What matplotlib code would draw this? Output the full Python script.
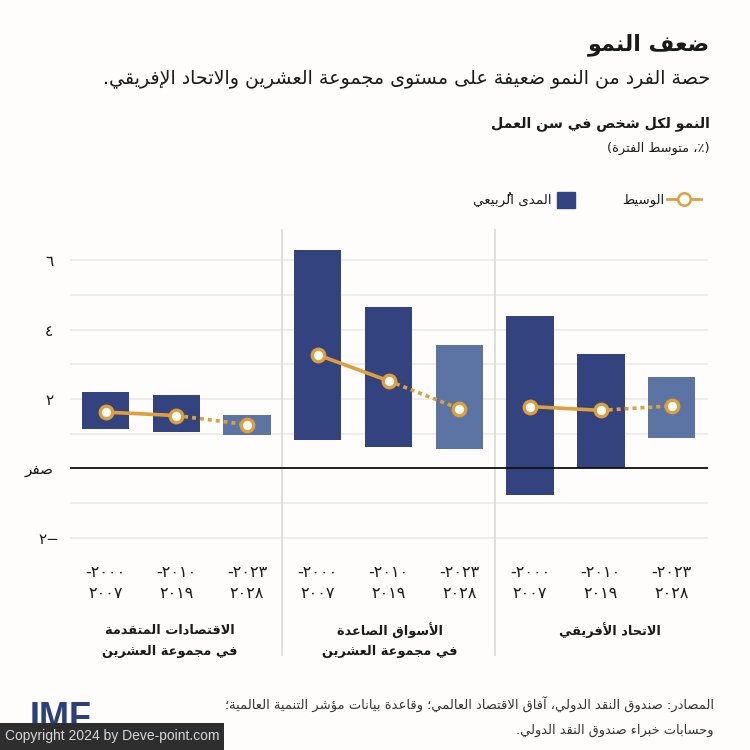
import re

import matplotlib
matplotlib.use("Agg")
import matplotlib.pyplot as plt
from matplotlib.lines import Line2D
from matplotlib.patches import Patch, Rectangle
from matplotlib.transforms import ScaledTranslation

# Data
period_start = ["٢٠٠٠", "٢٠١٠", "٢٠٢٣"] * 3
period_end = ["٢٠٠٧", "٢٠١٩", "٢٠٢٨"] * 3
q1 = [1.12, 1.06, 0.95, 0.81, 0.61, 0.55, -0.78, 0.00, 0.86]
q3 = [2.19, 2.12, 1.54, 6.30, 4.64, 3.56, 4.39, 3.29, 2.63]
median = [1.62, 1.52, 1.26, 3.27, 2.52, 1.72, 1.78, 1.67, 1.80]
is_forecast = [False, False, True] * 3

y_ticks = [-2, -1, 0, 1, 2, 3, 4, 5, 6]
y_labels = ["−٢", "", "صفر", "", "٢", "", "٤", "", "٦"]

groups = [
    "الاقتصادات المتقدمة\nفي مجموعة العشرين",
    "الأسواق الصاعدة\nفي مجموعة العشرين",
    "الاتحاد الأفريقي",
]

title = "ضعف النمو"
subtitle = "حصة الفرد من النمو ضعيفة على مستوى مجموعة العشرين والاتحاد الإفريقي."
heading = "النمو لكل شخص في سن العمل"
unit = "(٪، متوسط الفترة)"
median_label = "الوسيط"
range_label = "المدى الرُبيعي"
source = ["المصادر: صندوق النقد الدولي، آفاق الاقتصاد العالمي؛ وقاعدة بيانات مؤشر التنمية العالمية؛",
          "وحسابات خبراء صندوق النقد الدولي."]

DARK = "#33437F"
LIGHT = "#5C74A4"
ORANGE = "#DFA03A"
GRID = "#ECEAE7"
DIVIDER = "#D9D9D9"
BG = "#FEFDFC"
TEXT = "#1A1A1A"

# matplotlib has no Arabic shaping, so pick the presentation forms by hand
LETTERS = [("ء", 1), ("آ", 2), ("أ", 2), ("ؤ", 2), ("إ", 2), ("ئ", 4), ("ا", 2), ("ب", 4),
           ("ة", 2), ("ت", 4), ("ث", 4), ("ج", 4), ("ح", 4), ("خ", 4), ("د", 2), ("ذ", 2),
           ("ر", 2), ("ز", 2), ("س", 4), ("ش", 4), ("ص", 4), ("ض", 4), ("ط", 4), ("ظ", 4),
           ("ع", 4), ("غ", 4), ("ف", 4), ("ق", 4), ("ك", 4), ("ل", 4), ("م", 4), ("ن", 4),
           ("ه", 4), ("و", 2), ("ى", 2), ("ي", 4)]
FORMS = {}
code = 0xFE80
for letter, count in LETTERS:
    FORMS[letter] = [chr(code + k) for k in range(count)]
    code += count
LAM_ALEF = {"آ": 0xFEF5, "أ": 0xFEF7, "إ": 0xFEF9, "ا": 0xFEFB}
MARK = "\u064F"


def joins_next(ch):
    return ch in FORMS and len(FORMS[ch]) == 4


def shape(text):
    """Logical Arabic string to the visual order of joined glyphs"""
    chars = list(text)
    out = []
    prev_joins = False
    i = 0
    while i < len(chars):
        ch = chars[i]
        if ch == MARK:
            out.append(ch)
            i += 1
            continue
        if ch not in FORMS:
            out.append(ch)
            prev_joins = False
            i += 1
            continue
        if ch == "ل" and i + 1 < len(chars) and chars[i + 1] in LAM_ALEF:
            out.append(chr(LAM_ALEF[chars[i + 1]] + (1 if prev_joins else 0)))
            prev_joins = False
            i += 2
            continue
        j = i + 1
        while j < len(chars) and chars[j] == MARK:
            j += 1
        next_letter = j < len(chars) and chars[j] in FORMS
        forms = FORMS[ch]
        if len(forms) == 1:
            glyph = forms[0]
        elif len(forms) == 2:
            glyph = forms[1] if prev_joins else forms[0]
        elif prev_joins and next_letter:
            glyph = forms[3]
        elif prev_joins:
            glyph = forms[1]
        elif next_letter:
            glyph = forms[2]
        else:
            glyph = forms[0]
        out.append(glyph)
        prev_joins = joins_next(ch)
        i += 1
    visual = "".join(out)[::-1]
    visual = visual.translate(str.maketrans("()", ")("))
    # digits stay left to right, marks stay behind their base glyph
    visual = re.sub("[٠-٩]+", lambda m: m.group()[::-1], visual)
    visual = re.sub(MARK + "(.)", lambda m: m.group(1) + MARK, visual)
    return visual


def fx(x):
    return x / 750


def fy(y):
    return 1 - y / 750


def put(x, y, text, size, weight="normal", ha="right", color=TEXT):
    fig.text(fx(x), fy(y), shape(text), fontsize=size, fontweight=weight, ha=ha,
             va="center", color=color)


plt.rcParams["font.family"] = ["DejaVu Sans"]
fig = plt.figure(figsize=(7.5, 7.5), dpi=100, facecolor=BG)

# Axes: 34.7 px per unit, zero at y=468.3 px
ax = fig.add_axes([fx(70), fy(555), fx(638), (555 - 230) / 750])
ax.set_facecolor("none")
ax.set_xlim(-0.502, 8.515)
ax.set_ylim(-2.5, 6.87)
for side in ax.spines.values():
    side.set_visible(False)

ax.set_yticks(y_ticks)
ax.set_yticklabels([shape(s) for s in y_labels], fontsize=11, color=TEXT)
ax.tick_params(axis="y", length=0, pad=12)
ax.grid(axis="y", color=GRID, linewidth=1.2, zorder=0)
ax.set_axisbelow(True)
# the minus label hangs a little towards the axis
neg_label = ax.get_yticklabels()[0]
neg_label.set_transform(neg_label.get_transform() + ScaledTranslation(6 / 100, 0, fig.dpi_scale_trans))

xs = list(range(len(median)))
ax.set_xticks(xs)
ax.set_xticklabels([shape(a + "-") + "\n" + b for a, b in zip(period_start, period_end)],
                   fontsize=11.5, color=TEXT, linespacing=1.5)
ax.tick_params(axis="x", length=0, pad=7)

# Group dividers run down through the labels
for x in [2.5, 5.5]:
    ax.plot([x, x], [1, -0.308], transform=ax.get_xaxis_transform(), color=DIVIDER,
            linewidth=1.2, clip_on=False, zorder=1)

ax.bar(xs, [b - a for a, b in zip(q1, q3)], bottom=q1, width=0.67,
       color=[LIGHT if f else DARK for f in is_forecast], zorder=2)
ax.axhline(0, color="#111111", linewidth=1.3, zorder=3)

for start in [0, 3, 6]:
    ax.plot(xs[start:start + 2], median[start:start + 2], color=ORANGE, linewidth=2.6,
            solid_capstyle="butt", zorder=4)
    ax.plot(xs[start + 1:start + 3], median[start + 1:start + 3], color=ORANGE, linewidth=2.6,
            linestyle=(0, (1.1, 1.1)), zorder=4)
ax.plot(xs, median, linestyle="none", marker="o", markersize=9, markerfacecolor="white",
        markeredgecolor=ORANGE, markeredgewidth=2.4, zorder=5)

# Group names
for x, name in zip([170, 390, 610], groups):
    for k, line in enumerate(name.split("\n")):
        put(x, 630 + 22 * k, line, 9.3, weight="bold", ha="center")

# Titles
put(710, 45, title, 16, weight="bold")
put(710, 78, subtitle, 13.7)
put(710, 124, heading, 10.2, weight="bold")
put(710, 148, unit, 9.4)

# Legend, one per key so each key keeps its own width
key_line = Line2D([], [], color=ORANGE, linewidth=2, marker="o", markersize=9,
                  markerfacecolor="white", markeredgecolor=ORANGE, markeredgewidth=1.8)
key_box = Patch(color=DARK)
fig.legend([key_line], [shape(median_label)], loc="center right", bbox_to_anchor=(fx(701), fy(200)),
           frameon=False, fontsize=9.5, markerfirst=False, handlelength=2.55, handletextpad=0.25,
           borderpad=0, borderaxespad=0, labelcolor=TEXT)
fig.legend([key_box], [shape(range_label)], loc="center right", bbox_to_anchor=(fx(575), fy(200)),
           frameon=False, fontsize=9.7, markerfirst=False, handlelength=1.35, handleheight=1.35,
           handletextpad=0.35, borderpad=0, borderaxespad=0, labelcolor=TEXT)

# Source and logo
put(714, 705, source[0], 9.45, color="#333333")
put(714, 730, source[1], 9.4, color="#333333")
fig.text(fx(30), fy(728), "IMF", fontsize=26, fontweight="bold", family="Liberation Sans",
         color="#2B3F7E", ha="left", va="baseline", zorder=2)

# Watermark strip
fig.add_artist(Rectangle((0, 0), fx(224), 27 / 750, transform=fig.transFigure,
                         facecolor="#2E2E2E", edgecolor="none", zorder=5))
fig.text(fx(5), fy(736), "Copyright 2024 by Deve-point.com", fontsize=10, family="Liberation Sans",
         color="#D8D8D8", ha="left", va="center", zorder=6)

fig.savefig("out.png", dpi=100, facecolor=BG)
